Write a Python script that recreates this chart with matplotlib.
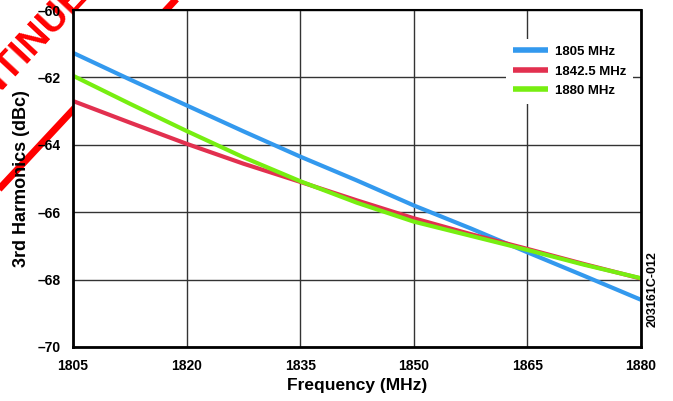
#!/usr/bin/env python3

import numpy as np
import matplotlib
matplotlib.use('Agg')
import matplotlib.pyplot as plt

plt.rcParams['font.family'] = ['Liberation Sans Narrow', 'DejaVu Sans Condensed', 'Liberation Sans', 'DejaVu Sans']
plt.rcParams['font.weight'] = 'bold'

#------------------------------------------------------------
# data (3rd harmonic, dBc)
#------------------------------------------------------------
freq = [1805, 1812.5, 1820, 1827.5, 1835, 1842.5, 1850, 1857.5, 1865, 1872.5, 1880]
h_1805   = [-61.27, -62.06, -62.83, -63.60, -64.35, -65.06, -65.80, -66.48, -67.19, -67.89, -68.60]
h_1842_5 = [-62.70, -63.34, -63.97, -64.56, -65.10, -65.65, -66.18, -66.65, -67.09, -67.54, -67.97]
h_1880   = [-61.95, -62.78, -63.59, -64.37, -65.08, -65.72, -66.28, -66.70, -67.12, -67.56, -67.96]

series = [("1805 MHz", h_1805, '#3399ee'),
          ("1842.5 MHz", h_1842_5, '#e2304f'),
          ("1880 MHz", h_1880, '#77ee11')]

xticks = [1805, 1820, 1835, 1850, 1865, 1880]
yticks = [-70, -68, -66, -64, -62, -60]

#------------------------------------------------------------
fig = plt.figure(figsize=(6.73, 4.01), dpi=100)
ax = fig.add_axes([0.1085, 0.1347, 0.8440, 0.8403])

# watermark behind the axes
fig.text(0.0, 0.81, "DISCONTINUED", color='#ff0000', fontsize=28, fontweight='bold',
         family=['Liberation Sans', 'DejaVu Sans'], rotation=47, ha='center', va='center',
         rotation_mode='anchor', zorder=-5,
         bbox=dict(boxstyle='square,pad=1.5', facecolor='none', edgecolor='#ff0000', linewidth=5))

for label, vals, col in series:
    ax.plot(freq, vals, color=col, linewidth=3.0, label=label, solid_capstyle='butt')

ax.set_xlim(1805, 1880)
ax.set_ylim(-70, -60)
ax.set_xticks(xticks)
ax.set_yticks(yticks)
ax.set_yticklabels(["\u2013%d" % abs(v) for v in yticks])
ax.grid(True, color='#333333', linewidth=1.0)
ax.set_axisbelow(True)
ax.tick_params(length=0, labelsize=10, pad=9)
for s in ax.spines.values():
    s.set_linewidth(2.0)
    s.set_color('black')
ax.spines['top'].set_linewidth(1.5)

ax.set_xlabel("Frequency (MHz)", fontsize=12.5, fontweight='bold', labelpad=3)
ax.set_ylabel("3rd Harmonics (dBc)", fontsize=13, fontweight='bold', labelpad=5)

leg = ax.legend(loc='upper right', bbox_to_anchor=(0.997, 0.933), fontsize=9.5, frameon=True,
                framealpha=1.0, edgecolor='none', fancybox=False, handlelength=2.7,
                handletextpad=0.5, labelspacing=0.55, borderpad=0.5)
for h in leg.get_lines():
    h.set_linewidth(4.0)

fig.text(0.970, 0.279, "203161C-012", rotation=90, fontsize=9, fontweight='bold',
         ha='center', va='center')

plt.savefig("out.png", dpi=100)
